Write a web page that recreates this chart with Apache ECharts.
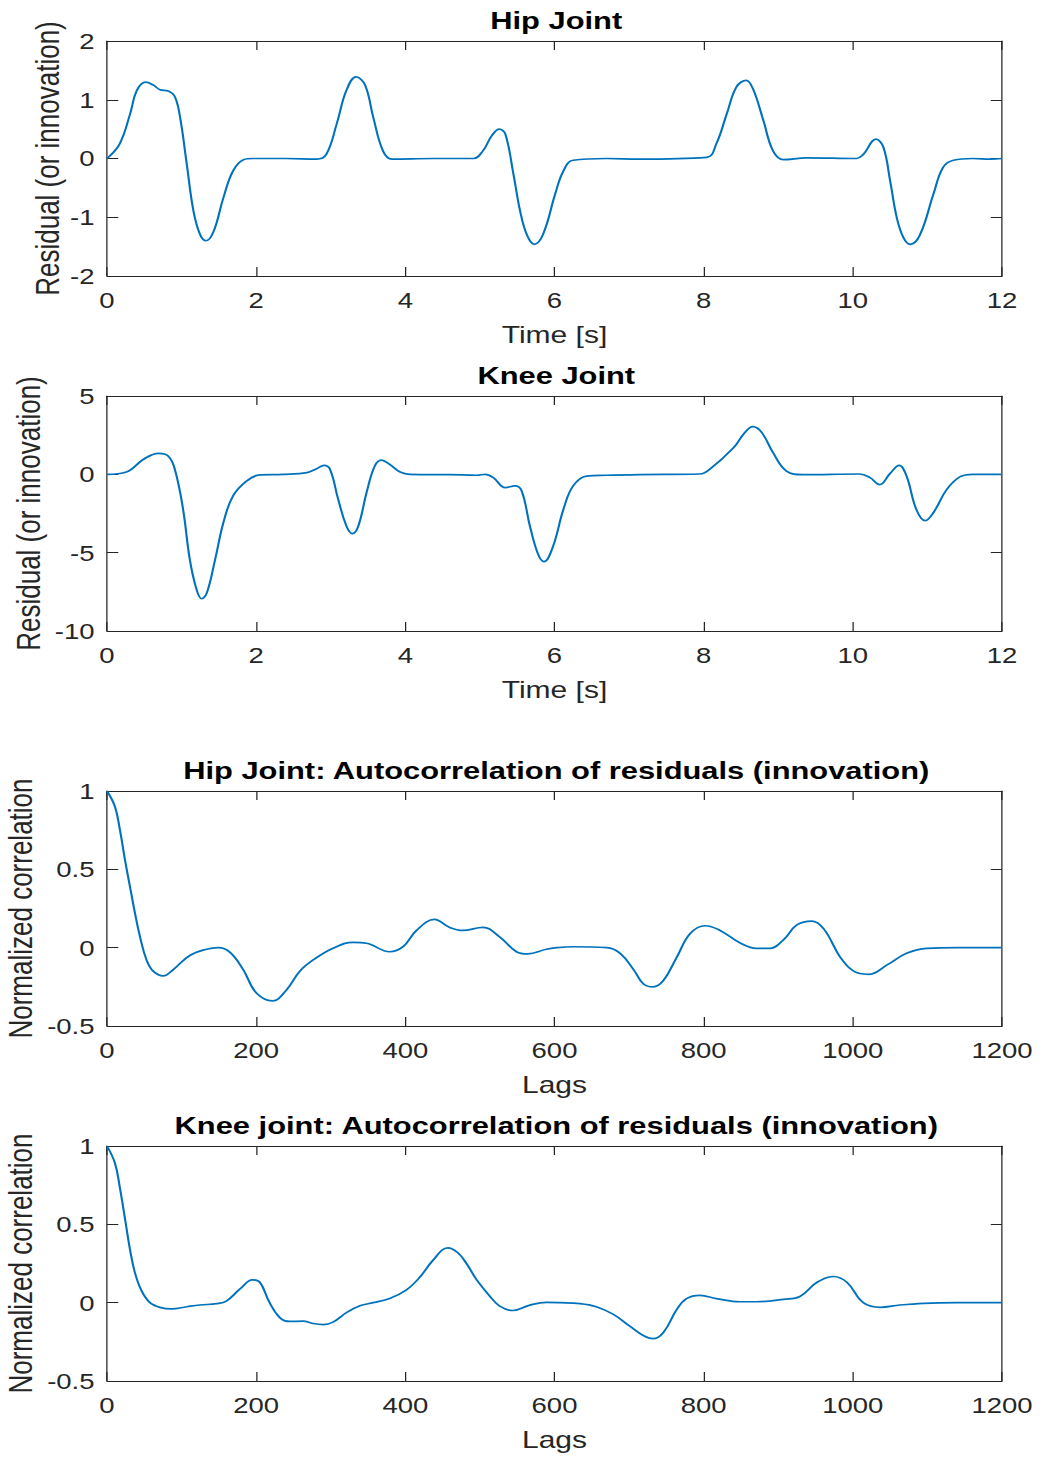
<!DOCTYPE html>
<html>
<head>
<meta charset="utf-8">
<script src="https://cdn.jsdelivr.net/npm/echarts@6/dist/echarts.min.js"></script>
<style>
  html, body { margin: 0; padding: 0; background: #fff; overflow: hidden; }
  /* the reference figure is stretched sideways, so the chart is drawn narrower and scaled in x */
  #main { width: 840px; height: 1458px; transform: scaleX(1.25); transform-origin: 0 0; }
</style>
</head>
<body>
<div id="main"></div>
<script>
// ---- data ----
const hipTime = [0, 0.17, 0.31, 0.40, 0.52, 0.62, 0.71, 0.82, 0.91, 0.98, 1.07, 1.16, 1.25, 1.33, 1.43, 1.56, 1.69, 1.83, 1.96, 2.4, 2.81, 2.94, 3.08, 3.21, 3.34, 3.46, 3.57, 3.70, 3.82, 4.37, 4.91, 5.04, 5.16, 5.26, 5.34, 5.45, 5.54, 5.63, 5.73, 5.85, 6.01, 6.12, 6.25, 6.70, 7.14, 8.04, 8.17, 8.31, 8.44, 8.57, 8.66, 8.80, 8.93, 9.07, 9.38, 10.05, 10.14, 10.31, 10.41, 10.50, 10.59, 10.68, 10.77, 10.90, 11.08, 11.21, 11.35, 11.61, 11.84, 12.0];
const hipResidual = [0, 0.25, 0.76, 1.16, 1.30, 1.25, 1.17, 1.15, 1.05, 0.70, -0.10, -0.90, -1.30, -1.40, -1.24, -0.67, -0.21, -0.02, 0, 0, -0.01, 0.07, 0.59, 1.16, 1.39, 1.25, 0.70, 0.13, -0.01, 0, 0, 0.13, 0.39, 0.50, 0.42, -0.27, -0.90, -1.30, -1.46, -1.28, -0.60, -0.21, -0.03, 0, -0.01, 0.02, 0.25, 0.76, 1.22, 1.33, 1.19, 0.65, 0.13, -0.02, 0.01, 0, 0.07, 0.33, 0.19, -0.38, -1.01, -1.35, -1.46, -1.30, -0.61, -0.15, -0.03, 0, -0.01, 0];

const kneeTime = [0, 0.26, 0.49, 0.69, 0.82, 0.91, 1.02, 1.11, 1.20, 1.27, 1.34, 1.45, 1.56, 1.69, 1.87, 2.05, 2.36, 2.68, 2.81, 2.91, 2.99, 3.10, 3.21, 3.29, 3.37, 3.48, 3.59, 3.68, 3.79, 3.93, 4.06, 4.60, 4.96, 5.07, 5.18, 5.34, 5.47, 5.56, 5.67, 5.78, 5.86, 5.98, 6.12, 6.25, 6.43, 6.70, 7.14, 7.95, 8.08, 8.40, 8.55, 8.66, 8.78, 8.93, 9.11, 9.33, 10.09, 10.23, 10.36, 10.50, 10.62, 10.72, 10.85, 10.97, 11.08, 11.26, 11.44, 11.61, 12.0];
const kneeResidual = [0, 0.15, 0.96, 1.34, 1.17, 0.32, -2.23, -5.43, -7.34, -7.94, -7.55, -5.43, -3.09, -1.38, -0.43, -0.04, 0, 0.11, 0.36, 0.57, 0.32, -1.6, -3.30, -3.79, -3.30, -1.17, 0.53, 0.91, 0.64, 0.15, 0, -0.02, -0.06, 0, -0.21, -0.85, -0.74, -1.06, -3.30, -5.1, -5.57, -4.6, -2.23, -0.74, -0.11, -0.06, -0.02, 0.02, 0.32, 1.70, 2.66, 3.04, 2.66, 1.38, 0.21, -0.02, 0.02, -0.21, -0.66, 0.06, 0.57, -0.11, -2.23, -2.96, -2.45, -0.96, -0.15, 0, 0];

const hipLags = [0, 10.7, 17.4, 24.1, 30.8, 37.5, 44.2, 53.1, 62, 75.4, 88.8, 111, 133.5, 149, 165, 182.6, 200.4, 222, 240.6, 258.5, 276, 303, 330, 348, 379, 397, 415, 439, 459, 477, 504, 526, 549, 564, 589, 603, 625, 670, 688, 706, 719, 732, 746, 764, 782, 802, 822, 849, 871, 889, 907, 925, 945, 961, 983, 1001, 1021, 1046, 1072, 1099, 1140, 1200];
const hipCorr = [1.0, 0.90, 0.75, 0.56, 0.39, 0.22, 0.07, -0.08, -0.15, -0.18, -0.14, -0.05, -0.01, 0, -0.03, -0.14, -0.29, -0.34, -0.27, -0.15, -0.08, -0.004, 0.034, 0.028, -0.026, 0.006, 0.11, 0.18, 0.13, 0.11, 0.13, 0.07, -0.026, -0.04, -0.01, 0, 0.006, 0, -0.036, -0.14, -0.23, -0.25, -0.21, -0.06, 0.09, 0.14, 0.11, 0.03, -0.004, -0.004, 0.05, 0.145, 0.17, 0.12, -0.06, -0.15, -0.17, -0.11, -0.036, -0.004, 0, 0];

const kneeLags = [0, 10.7, 17.4, 24, 30.8, 37.5, 46.4, 57.6, 71, 86.6, 107, 124.5, 147, 160, 178, 195, 205, 218, 232, 245, 263, 276, 290, 303, 321, 339, 357, 379, 401, 419, 437, 457, 470, 482, 495, 513, 526, 544, 566, 589, 607, 634, 656, 679, 701, 719, 732, 746, 764, 777, 795, 817, 849, 871, 907, 929, 952, 974, 992, 1014, 1037, 1063, 1095, 1140, 1200];
const kneeCorr = [1.0, 0.89, 0.73, 0.54, 0.34, 0.19, 0.075, 0, -0.03, -0.04, -0.026, -0.015, -0.006, 0.01, 0.086, 0.146, 0.13, 0, -0.097, -0.12, -0.118, -0.133, -0.14, -0.124, -0.064, -0.02, 0, 0.026, 0.08, 0.16, 0.27, 0.35, 0.32, 0.25, 0.15, 0.043, -0.02, -0.05, -0.017, 0.002, 0, -0.006, -0.026, -0.075, -0.15, -0.21, -0.23, -0.19, -0.043, 0.026, 0.047, 0.026, 0.006, 0.006, 0.021, 0.039, 0.13, 0.167, 0.13, 0, -0.03, -0.015, -0.004, 0, 0];

const titles = [
  'Hip Joint',
  'Knee Joint',
  'Hip Joint: Autocorrelation of residuals (innovation)',
  'Knee joint: Autocorrelation of residuals (innovation)'
];
const xNames = ['Time [s]', 'Time [s]', 'Lags', 'Lags'];
const yNames = ['Residual (or innovation)', 'Residual (or innovation)', 'Normalized correlation', 'Normalized correlation'];
const xRanges = [[0, 12, 2], [0, 12, 2], [0, 1200, 200], [0, 1200, 200]];
const yRanges = [[-2, 2, 1], [-10, 5, 5], [-0.5, 1, 0.5], [-0.5, 1, 0.5]];
const seriesX = [hipTime, kneeTime, hipLags, kneeLags];
const seriesY = [hipResidual, kneeResidual, hipCorr, kneeCorr];

// ---- layout (page px, divided by the x stretch where needed) ----
const SX = 1.25;
const AX = '#262626';
const FONT = 'Liberation Sans';
const plotTop = [41, 396, 791, 1146];
const titleTop = [3, 358, 753, 1108];
const yNameGap = [35, 50, 56, 56];

const chart = echarts.init(document.getElementById('main'), null, { renderer: 'svg' });

const grid = [], xAxis = [], yAxis = [], series = [], title = [];
const lineStyle = { color: AX, width: 1 };
const tick = { show: true, inside: true, length: 9, lineStyle: { color: AX, width: 1 } };
const plain = v => String(v);

for (let i = 0; i < 4; i++) {
  grid.push({
    left: 107 / SX, top: plotTop[i], width: 895 / SX, height: 235,
    containLabel: false, outerBoundsMode: 'none'
  });
  title.push({
    text: titles[i], left: 550 / SX, top: titleTop[i], textAlign: 'center',
    textStyle: { fontFamily: FONT, fontSize: 24.7, fontWeight: 'bold', color: '#000' }
  });
  const [x0, x1, xs] = xRanges[i];
  const [y0, y1, ys] = yRanges[i];
  xAxis.push({
    type: 'value', gridIndex: i, position: 'bottom', min: x0, max: x1, interval: xs,
    name: xNames[i], nameLocation: 'middle', nameGap: 47, nameMoveOverlap: false,
    nameTextStyle: { fontFamily: FONT, fontSize: 24, color: AX },
    axisLine: { show: true, onZero: false, lineStyle }, axisTick: tick,
    axisLabel: { fontFamily: FONT, fontSize: 22, color: AX, margin: 13, formatter: plain },
    splitLine: { show: false }
  });
  xAxis.push({
    type: 'value', gridIndex: i, position: 'top', min: x0, max: x1, interval: xs,
    axisLine: { show: true, onZero: false, lineStyle }, axisTick: tick,
    axisLabel: { show: false }, splitLine: { show: false }
  });
  yAxis.push({
    type: 'value', gridIndex: i, position: 'left', min: y0, max: y1, interval: ys,
    name: yNames[i], nameLocation: 'middle', nameGap: yNameGap[i], nameMoveOverlap: false,
    nameTextStyle: { fontFamily: FONT, fontSize: 26, color: AX },
    axisLine: { show: true, onZero: false, lineStyle }, axisTick: tick,
    axisLabel: { fontFamily: FONT, fontSize: 22, color: AX, margin: 10, formatter: plain },
    splitLine: { show: false }
  });
  yAxis.push({
    type: 'value', gridIndex: i, position: 'right', min: y0, max: y1, interval: ys,
    axisLine: { show: true, onZero: false, lineStyle }, axisTick: tick,
    axisLabel: { show: false }, splitLine: { show: false }
  });
  series.push({
    type: 'line', xAxisIndex: 2 * i, yAxisIndex: 2 * i,
    data: seriesX[i].map((x, k) => [x, seriesY[i][k]]),
    showSymbol: false, smooth: 0.4, silent: true,
    lineStyle: { color: '#0072BD', width: 1.7 }
  });
}

chart.setOption({
  animation: false,
  backgroundColor: '#fff',
  title, grid, xAxis, yAxis, series
});
</script>
</body>
</html>
